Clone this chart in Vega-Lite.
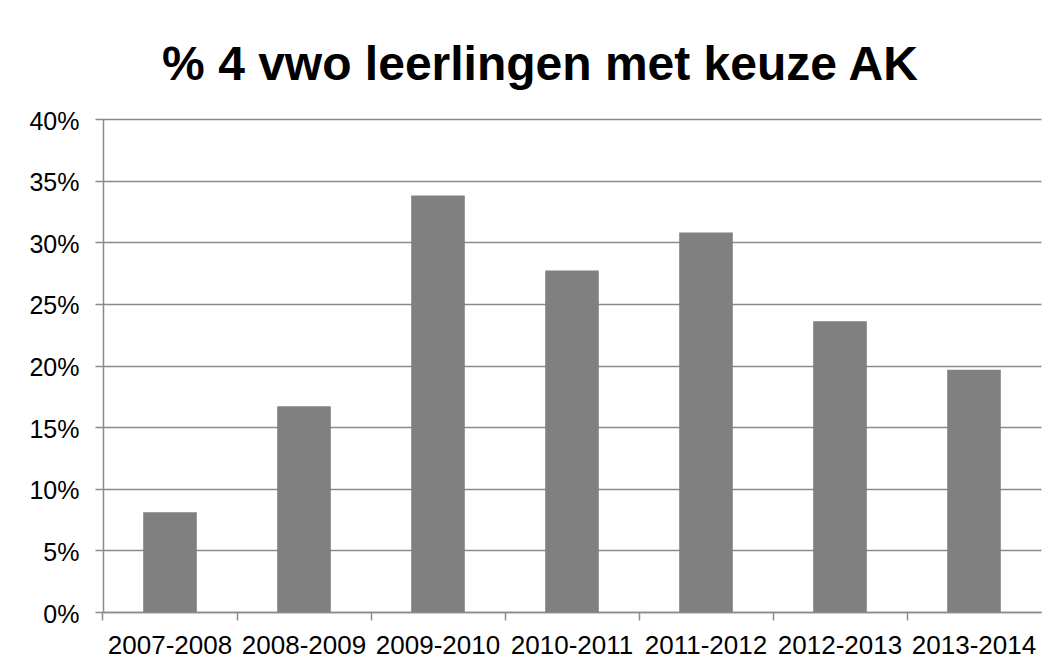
{
  "$schema": "https://vega.github.io/schema/vega-lite/v6.json",
  "width": 938,
  "height": 493,
  "autosize": {"type": "none"},
  "padding": {"left": 103, "top": 119, "right": 17, "bottom": 57},
  "background": "white",
  "title": {
    "text": "% 4 vwo leerlingen met keuze AK",
    "font": "Liberation Sans",
    "fontSize": 48,
    "fontWeight": "bold",
    "color": "#000000",
    "anchor": "middle",
    "dx": -32,
    "baseline": "alphabetic",
    "offset": -19
  },
  "data": {
    "values": [
      {"jaar": "2007-2008", "pct": 0.081},
      {"jaar": "2008-2009", "pct": 0.167},
      {"jaar": "2009-2010", "pct": 0.338},
      {"jaar": "2010-2011", "pct": 0.277},
      {"jaar": "2011-2012", "pct": 0.308},
      {"jaar": "2012-2013", "pct": 0.236},
      {"jaar": "2013-2014", "pct": 0.1965}
    ]
  },
  "mark": {"type": "bar", "color": "#808080"},
  "encoding": {
    "x": {
      "field": "jaar",
      "type": "nominal",
      "sort": null,
      "scale": {"paddingInner": 0.6, "paddingOuter": 0.3},
      "axis": {
        "title": null,
        "labelAngle": 0,
        "labelFont": "Liberation Sans",
        "labelFontSize": 26,
        "labelColor": "#000000",
        "labelBaseline": "top",
        "labelPadding": 12,
        "tickSize": 8,
        "tickColor": "#8a8a8a",
        "tickWidth": 1.5,
        "domainColor": "#8a8a8a",
        "domainWidth": 1.5,
        "bandPosition": -0.75,
        "grid": false
      }
    },
    "y": {
      "field": "pct",
      "type": "quantitative",
      "scale": {"domain": [0, 0.4], "nice": false},
      "axis": {
        "title": null,
        "format": ".0%",
        "values": [0, 0.05, 0.1, 0.15, 0.2, 0.25, 0.3, 0.35, 0.4],
        "labelFont": "Liberation Sans",
        "labelFontSize": 25,
        "labelColor": "#000000",
        "labelPadding": 16,
        "labelOffset": 2,
        "tickSize": 8,
        "tickColor": "#8a8a8a",
        "tickWidth": 1.5,
        "domainColor": "#8a8a8a",
        "domainWidth": 1.5,
        "grid": true,
        "gridColor": "#8a8a8a",
        "gridWidth": 1.5
      }
    }
  },
  "config": {
    "view": {"stroke": null}
  }
}
